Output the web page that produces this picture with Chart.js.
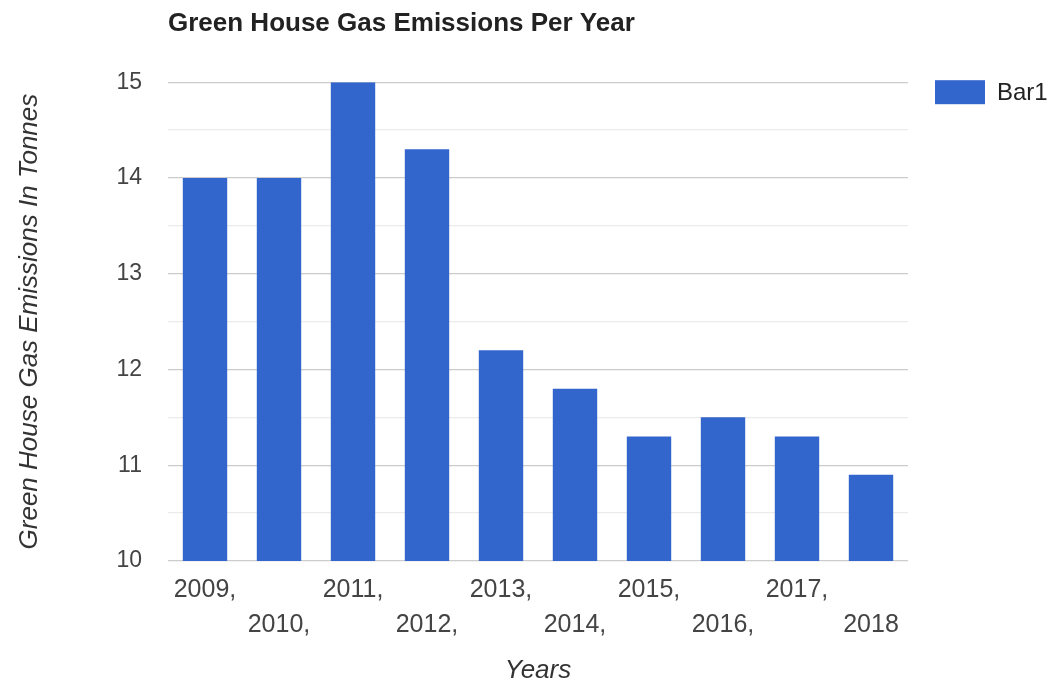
<!DOCTYPE html>
<html>
<head>
<meta charset="utf-8">
<title>Green House Gas Emissions Per Year</title>
<script src="https://cdn.jsdelivr.net/npm/chart.js@4"></script>
<style>
  html, body { margin: 0; padding: 0; background: #fff; }
</style>
</head>
<body>
<canvas id="barChart" width="1050" height="686"></canvas>
<script>
// data
const years = ['2009', '2010', '2011', '2012', '2013', '2014', '2015', '2016', '2017', '2018'];
const emissions = [14, 14, 15, 14.3, 12.2, 11.8, 11.3, 11.5, 11.3, 10.9];
const yTicks = [10, 11, 12, 13, 14, 15];
const seriesName = 'Bar1';

const barColor = '#3366cc';
const fontFamily = '"Liberation Sans", Arial, sans-serif';

// legend box to the right of the plot, top aligned
const sideLegend = {
  id: 'sideLegend',
  afterDraw(chart) {
      const ctx = chart.ctx;
      const area = chart.chartArea;
      const ds = chart.data.datasets[0];
      ctx.save();
      ctx.fillStyle = ds.backgroundColor;
      ctx.fillRect(area.right + 27, area.top - 2, 50, 24);
      ctx.fillStyle = '#222';
      ctx.font = '24px ' + fontFamily;
      ctx.textBaseline = 'middle';
      ctx.textAlign = 'left';
      ctx.fillText(ds.label, area.right + 89, area.top + 11);
      ctx.restore();
  }
};

document.addEventListener('DOMContentLoaded', () => {
  Chart.defaults.font.family = fontFamily;

  const barChartCtx = document.getElementById('barChart').getContext('2d');

  new Chart(barChartCtx, {
      type: 'bar',
      data: {
          labels: years,
          datasets: [{
              label: seriesName,
              data: emissions,
              backgroundColor: barColor,
              barPercentage: 0.6,
              categoryPercentage: 1
          }]
      },
      options: {
          responsive: false,
          animation: false,
          layout: { padding: { left: 0, right: 142, top: 0, bottom: 0 } },
          plugins: {
              legend: { display: false },
              tooltip: { enabled: false },
              title: {
                  display: true,
                  text: 'Green House Gas Emissions Per Year',
                  align: 'start',
                  fullSize: false,
                  color: '#222',
                  font: { size: 26, weight: 'bold' },
                  padding: { top: 8, bottom: 43 }
              }
          },
          scales: {
              x: {
                  afterFit: (scale) => { scale.height = 125; },
                  grid: { display: false, drawTicks: false },
                  border: { display: false },
                  ticks: {
                      autoSkip: false,
                      maxRotation: 0,
                      padding: 12,
                      color: '#444',
                      font: { size: 25, lineHeight: 1.4 },
                      // staggered two rows, commas like the original
                      callback: function (value, index) {
                          const label = this.getLabelForValue(value) + (index < years.length - 1 ? ',' : '');
                          return index % 2 === 0 ? [label, ''] : ['', label];
                      }
                  },
                  title: {
                      display: true,
                      text: 'Years',
                      color: '#333',
                      font: { size: 26, style: 'italic' },
                      padding: { top: 0, bottom: 0 }
                  }
              },
              y: {
                  min: yTicks[0],
                  max: yTicks[yTicks.length - 1],
                  afterFit: (scale) => { scale.width = 168; },
                  border: { display: false },
                  grid: {
                      drawTicks: false,
                      lineWidth: 1.3,
                      color: (c) => yTicks.includes(c.tick.value) ? '#cccccc' : '#ebebeb'
                  },
                  ticks: {
                      stepSize: 0.5,
                      padding: 26,
                      color: '#444',
                      font: { size: 23 },
                      callback: (value) => yTicks.includes(value) ? value : ''
                  },
                  title: {
                      display: true,
                      text: 'Green House Gas Emissions In Tonnes',
                      color: '#333',
                      font: { size: 26, style: 'italic' },
                      padding: { top: 14, bottom: 0 }
                  }
              }
          }
      },
      plugins: [sideLegend]
  });
});
</script>
</body>
</html>
